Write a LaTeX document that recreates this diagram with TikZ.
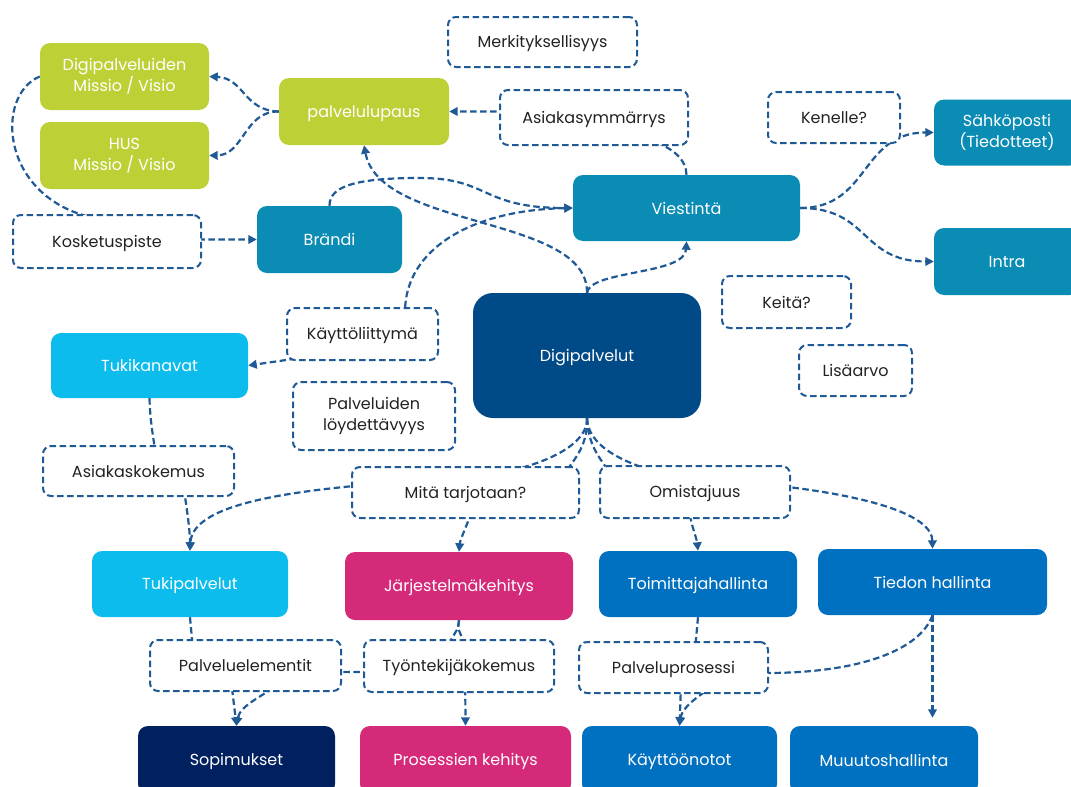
\documentclass[tikz,border=0pt]{standalone}
\usepackage{fontspec}
\setmainfont{Poppins}
\usetikzlibrary{arrows.meta,calc}

\definecolor{cLime}{HTML}{BDD136}
\definecolor{cTeal}{HTML}{0A8CB4}
\definecolor{cDeep}{HTML}{004B87}
\definecolor{cSky}{HTML}{0BBCEC}
\definecolor{cPink}{HTML}{D52A7A}
\definecolor{cBlue}{HTML}{0070C0}
\definecolor{cNavy}{HTML}{012060}
\definecolor{cLine}{HTML}{1F5A96}
\definecolor{cText}{HTML}{222222}

% strut that keeps every line of box text at the same vertical position
\newcommand\boxstrut{\rule[-3pt]{0pt}{18.4pt}}

\pgfdeclarelayer{bg}
\pgfsetlayers{bg,main}

\tikzset{
  fbox/.style={rounded corners=10pt, align=center, text=white, inner sep=0pt,
    font=\fontsize{16}{21}\selectfont,
    execute at begin node=\boxstrut, execute at end node=\boxstrut},
  lbox/.style={draw=cLine, line width=2pt, dash pattern=on 6.5pt off 3.5pt,
    rounded corners=8pt, fill=white, align=center, text=cText, inner sep=0pt,
    font=\fontsize{16}{21}\selectfont,
    execute at begin node=\boxstrut, execute at end node=\boxstrut},
  con/.style={draw=cLine, line width=2.2pt, dash pattern=on 6.5pt off 3.5pt},
  tipend/.style={-{Triangle[length=8.5pt,width=8.5pt]}},
  arr/.style={con, tipend},
  arrboth/.style={con, {Triangle[length=8.5pt,width=8.5pt]}-{Triangle[length=8.5pt,width=8.5pt]}},
}

\begin{document}
\begin{tikzpicture}[x=1pt, y=-1pt]
\useasboundingbox (0,0) rectangle (1071,787);

% filled boxes
\node[fbox, fill=cLime, minimum width=169pt, minimum height=67pt] (dmv) at (124.5,76.5) {Digipalveluiden\\Missio / Visio};
\node[fbox, fill=cLime, minimum width=169pt, minimum height=67pt] (hmv) at (124.5,155.5) {HUS\\Missio / Visio};
\node[fbox, fill=cLime, minimum width=170pt, minimum height=67pt] (lupaus) at (364,111.5) {palvelulupaus};
\node[fbox, fill=cTeal, minimum width=145pt, minimum height=67pt] (brandi) at (329.5,239.5) {Brändi};
\node[fbox, fill=cTeal, minimum width=227pt, minimum height=66pt] (viest) at (686.5,208) {Viestintä};
\node[fbox, fill=cTeal, minimum width=146pt, minimum height=66pt] (sahko) at (1007,132.5) {Sähköposti\\(Tiedotteet)};
\node[fbox, fill=cTeal, minimum width=146pt, minimum height=67pt] (intra) at (1007,261.5) {Intra};
\node[fbox, fill=cDeep, rounded corners=20pt, minimum width=228pt, minimum height=125pt] (digi) at (587,355.5) {Digipalvelut};
\node[fbox, fill=cSky, minimum width=197pt, minimum height=65pt] (tukik) at (149.5,365.5) {Tukikanavat};
\node[fbox, fill=cSky, minimum width=196pt, minimum height=66pt] (tukip) at (190,584) {Tukipalvelut};
\node[fbox, fill=cPink, minimum width=228pt, minimum height=68pt] (jarj) at (459,586) {Järjestelmäkehitys};
\node[fbox, fill=cBlue, minimum width=198pt, minimum height=66pt] (toim) at (698,584) {Toimittajahallinta};
\node[fbox, fill=cBlue, minimum width=229pt, minimum height=66pt] (tiedon) at (932.5,582) {Tiedon hallinta};
\node[fbox, fill=cNavy, minimum width=197pt, minimum height=68pt] (sopim) at (236.5,760) {Sopimukset};
\node[fbox, fill=cPink, minimum width=211pt, minimum height=68pt] (prosk) at (465.5,760) {Prosessien kehitys};
\node[fbox, fill=cBlue, minimum width=195pt, minimum height=68pt] (kayt) at (679.5,760) {Käyttöönotot};
\node[fbox, fill=cBlue, minimum width=188pt, minimum height=68pt] (muut) at (884,760) {Muuutoshallinta};

% dashed label boxes
\node[lbox, minimum width=189pt, minimum height=50pt] (merk) at (542.5,42) {Merkityksellisyys};
\node[lbox, minimum width=188pt, minimum height=55pt] (asiak) at (594,117.5) {Asiakasymmärrys};
\node[lbox, minimum width=132pt, minimum height=51pt] (kenelle) at (834,117.5) {Kenelle?};
\node[lbox, minimum width=188pt, minimum height=53pt] (koske) at (107,241.5) {Kosketuspiste};
\node[lbox, minimum width=151pt, minimum height=52pt] (kaytto) at (362.5,334) {Käyttöliittymä};
\node[lbox, minimum width=129pt, minimum height=52pt] (keita) at (786.5,302) {Keitä?};
\node[lbox, minimum width=113pt, minimum height=51pt] (lisa) at (855.5,370.5) {Lisäarvo};
\node[lbox, minimum width=162pt, minimum height=68pt] (loyd) at (374,416) {Palveluiden\\löydettävyys};
\node[lbox, minimum width=191pt, minimum height=50pt] (asko) at (138.5,471) {Asiakaskokemus};
\node[lbox, minimum width=227pt, minimum height=51pt] (mita) at (465.5,492.5) {Mitä tarjotaan?};
\node[lbox, minimum width=190pt, minimum height=52pt] (omis) at (695,492) {Omistajuus};
\node[lbox, minimum width=191pt, minimum height=51pt] (pael) at (245.5,665.5) {Palveluelementit};
\node[lbox, minimum width=190pt, minimum height=52pt] (tyon) at (459,666) {Työntekijäkokemus};
\node[lbox, minimum width=189pt, minimum height=51pt] (palpro) at (673.5,667.5) {Palveluprosessi};

\coordinate (muutin) at ($(tiedon.south |- muut.north)+(0,-8)$);

\begin{pgfonlayer}{bg}
% upper part
\draw[arr] (lupaus.west) .. controls (244,111) and (244,78) .. (dmv.east);
\draw[arr] (lupaus.west) .. controls (244,111) and (244,155) .. (hmv.east);
\draw[arr] (viest.north) .. controls (686,160) and (675,148) .. (645,138) -- (asiak.west |- lupaus.east) -- (lupaus.east);
\draw[arr] (dmv.west) .. controls (-5,95) and (0,195) .. (90,217) -- (koske.east |- brandi.west) -- (brandi.west);
\draw[arr] (brandi.north) .. controls (329,185) and (360,178) .. (420,178) .. controls (490,178) and (480,208) .. (viest.west);
\draw[arrboth] (viest.west) .. controls (470,210) and (405,250) .. (405,312) -- (300,358) -- (tukik.east);
\draw[arr] (digi.north) .. controls (588,215) and (380,230) .. (lupaus.south);
\draw[arr] (digi.north) .. controls (590,270) and (685,275) .. (viest.south);
\draw[arr] (viest.east) .. controls (870,208) and (860,132.5) .. (sahko.west);
\draw[arr] (viest.east) .. controls (870,208) and (860,261.5) .. (intra.west);
% middle part
\draw[arr] (tukik.south) .. controls (150,420) and (153,435) .. (155,450) -- (184,490) .. controls (187,510) and (190,530) .. (tukip.north);
\draw[arr] (digi.south) .. controls (588,445) and (545,462) .. (517,469) -- (354,486) .. controls (260,495) and (192,510) .. (tukip.north);
\draw[arr] (digi.south) .. controls (588,445) and (575,458) .. (568,469) -- (470,516) .. controls (465,530) and (460,540) .. (jarj.north);
\draw[arr] (digi.south) .. controls (588,445) and (600,458) .. (607,469) -- (690,516) .. controls (693,530) and (697,540) .. (toim.north);
\draw[arr] (digi.south) .. controls (588,445) and (620,460) .. (647,469) -- (788,487) .. controls (870,497) and (932,515) .. (tiedon.north);
% lower part
\draw[arr] (tukip.south) -- (193,650) -- (231,680) -- (sopim.north);
\draw[arr] (jarj.south) -- (458,628) -- (448,645) -- (366,672) -- (338,672) -- (285,680) .. controls (265,695) and (240,705) .. (sopim.north);
\draw[arr] (jarj.south) -- (458,628) -- (465,645) -- (prosk.north);
\draw[arr] (toim.south) -- (695,650) -- (681,685) -- (kayt.north);
\draw[arr] (tiedon.south) .. controls (920,650) and (860,673) .. (766,673) -- (715,685) .. controls (695,698) and (682,708) .. (kayt.north);
\draw[arr] (tiedon.south) -- (muutin);
\end{pgfonlayer}
\end{tikzpicture}
\end{document}
